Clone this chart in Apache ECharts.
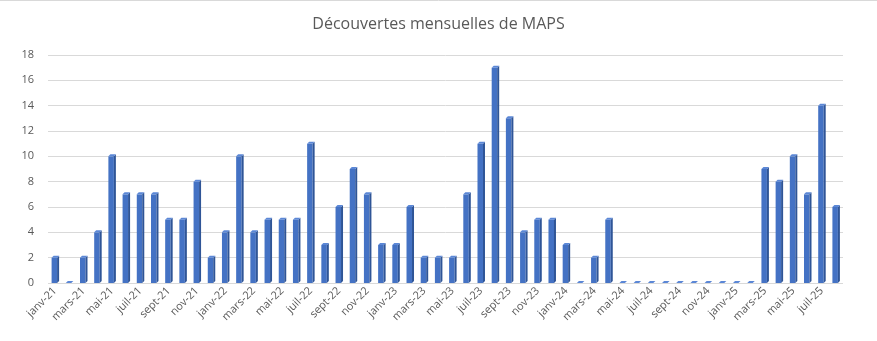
<!DOCTYPE html>
<html>
<head>
<meta charset="utf-8">
<script src="https://cdn.jsdelivr.net/npm/echarts@6/dist/echarts.min.js"></script>
<style>
  html, body { margin: 0; padding: 0; background: #fff; }
  #chart { width: 877px; height: 341px; }
</style>
</head>
<body>
<div id="chart"></div>
<script>
// Mois (janv-21 à août-25)
const monthNames = ['janv', 'févr', 'mars', 'avr', 'mai', 'juin', 'juil', 'août', 'sept', 'oct', 'nov', 'déc'];
const years = ['21', '22', '23', '24', '25'];
const categories = [];
years.forEach(function (y) {
  monthNames.forEach(function (m) { categories.push(m + '-' + y); });
});
categories.splice(56); // s'arrête à août-25

// Découvertes par mois
const values2021 = [2, 0, 2, 4, 10, 7, 7, 7, 5, 5, 8, 2];
const values2022 = [4, 10, 4, 5, 5, 5, 11, 3, 6, 9, 7, 3];
const values2023 = [3, 6, 2, 2, 2, 7, 11, 17, 13, 4, 5, 5];
const values2024 = [3, 0, 2, 5, 0, 0, 0, 0, 0, 0, 0, 0];
const values2025 = [0, 0, 9, 8, 10, 7, 14, 6];
const values = [].concat(values2021, values2022, values2023, values2024, values2025);

const yTicks = { min: 0, max: 18, interval: 2 };

const chart = echarts.init(document.getElementById('chart'));

// Barre en relief : face avant, flanc droit et dessus
function renderBar(params, api) {
  const idx = api.value(0);
  const val = api.value(1);
  const top = api.coord([idx, val]);
  const base = api.coord([idx, 0]);
  const w = 5.5, d = 2;
  const x0 = top[0] - 3.5, x1 = x0 + w;
  const yT = top[1], yB = base[1];
  return {
    type: 'group',
    children: [
      { type: 'rect', shape: { x: x0, y: yT, width: w, height: yB - yT },
        style: { fill: '#4472C4' } },
      { type: 'polygon', shape: { points: [[x1, yT], [x1 + d, yT - d], [x1 + d, yB - d], [x1, yB]] },
        style: { fill: '#2F5597' } },
      { type: 'polygon', shape: { points: [[x0, yT], [x0 + d, yT - d], [x1 + d, yT - d], [x1, yT]] },
        style: { fill: '#5B87D6' } }
    ]
  };
}

chart.setOption({
  animation: false,
  title: {
    text: 'Découvertes mensuelles de MAPS',
    left: 'center',
    top: 11,
    textStyle: { fontFamily: 'Open Sans', fontSize: 16, fontWeight: 'normal', color: '#595959' }
  },
  graphic: [{
    type: 'line',
    shape: { x1: 0, y1: 0.5, x2: 877, y2: 0.5 },
    style: { stroke: '#D9D9D9', lineWidth: 1 }
  }],
  grid: { left: 48, right: 34, top: 55, bottom: 58 },
  xAxis: {
    type: 'category',
    data: categories,
    boundaryGap: true,
    axisLine: { show: false },
    axisTick: { show: false },
    axisLabel: {
      interval: 1,
      rotate: 45,
      margin: 6,
      fontFamily: 'Open Sans',
      fontSize: 11,
      color: '#595959'
    }
  },
  yAxis: {
    type: 'value',
    min: yTicks.min,
    max: yTicks.max,
    interval: yTicks.interval,
    axisLine: { show: false },
    axisTick: { show: false },
    axisLabel: { fontFamily: 'Open Sans', fontSize: 11, color: '#595959', margin: 14 },
    splitLine: { lineStyle: { color: '#D9D9D9', width: 1 } }
  },
  series: [{
    type: 'custom',
    renderItem: renderBar,
    data: values.map(function (v, i) { return [i, v]; }),
    encode: { x: 0, y: 1 }
  }]
});
</script>
</body>
</html>
